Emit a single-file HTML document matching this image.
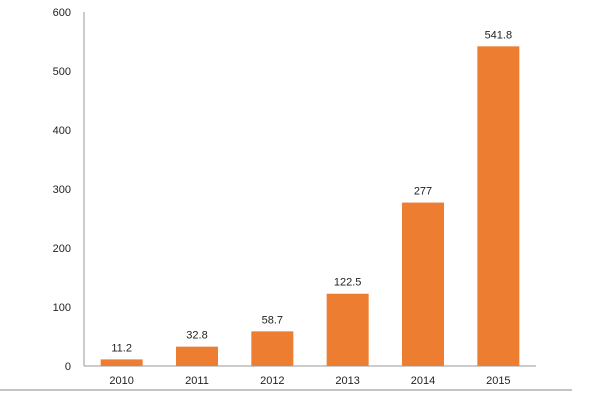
<!DOCTYPE html>
<html><head><meta charset="utf-8"><style>
body{margin:0;background:#fff;}
svg{display:block;font-family:"Liberation Sans",sans-serif;}
</style></head><body>
<svg id="chart" width="612" height="400" viewBox="0 0 612 400">
<line x1="0" y1="390" x2="572" y2="390" stroke="#888" stroke-width="1"/>
<g id="yticks"></g>
<g id="bars"></g>
<line x1="84" y1="12" x2="84" y2="366" stroke="#999" stroke-width="1"/>
<line x1="84" y1="366" x2="536" y2="366" stroke="#999" stroke-width="1"/>
</svg>
<script>
const categories = ["2010","2011","2012","2013","2014","2015"];
const values = [11.2, 32.8, 58.7, 122.5, 277, 541.8];
const valueLabels = ["11.2","32.8","58.7","122.5","277","541.8"];
const yTicks = [0,100,200,300,400,500,600];

const NS = "http://www.w3.org/2000/svg";
const x0 = 84, x1 = 536, y0 = 366, yTop = 12, yMax = 600;
const y = v => y0 - (v / yMax) * (y0 - yTop);
const band = (x1 - x0) / categories.length;
const xc = i => x0 + band * (i + 0.5);
const bw = 42;
function mk(tag, attrs, text){const e=document.createElementNS(NS,tag);for(const k in attrs)e.setAttribute(k,attrs[k]);if(text!==undefined)e.textContent=text;return e;}

const yg = document.getElementById('yticks');
yTicks.forEach(t => {
  const tx = mk('text',{x:71,y:y(t)+4,'text-anchor':'end','font-size':11,fill:'#222'},String(t));
  
  
  yg.appendChild(tx);
});

const bg = document.getElementById('bars');
categories.forEach((c, i) => {
  const r = mk('rect',{x:xc(i)-bw/2,y:y(values[i]),width:bw,height:y0-y(values[i]),fill:'#ED7D31'});
  
  
  bg.appendChild(r);
  const vl = mk('text',{x:xc(i),y:y(values[i])-8,'text-anchor':'middle','font-size':11,fill:'#222'},valueLabels[i]);
  
  
  bg.appendChild(vl);
  const cl = mk('text',{x:xc(i),y:384,'text-anchor':'middle','font-size':11,fill:'#222'},c);
  
  
  bg.appendChild(cl);
});
</script>
</body></html>
